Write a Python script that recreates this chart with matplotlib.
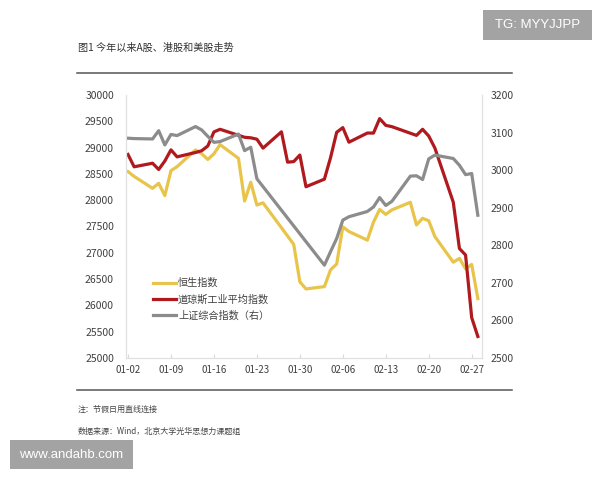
import matplotlib.pyplot as plt
import pandas as pd
from matplotlib.patches import Rectangle
from matplotlib.lines import Line2D

plt.rcParams['font.family'] = ['Noto Sans CJK SC', 'DejaVu Sans']

# 恒生指数 (HK trading days)
hsi_dates = ["01-02", "01-03", "01-06", "01-07", "01-08", "01-09", "01-10", "01-13", "01-14", "01-15",
             "01-16", "01-17", "01-20", "01-21", "01-22", "01-23", "01-24", "01-29", "01-30", "01-31",
             "02-03", "02-04", "02-05", "02-06", "02-07", "02-10", "02-11", "02-12", "02-13", "02-14",
             "02-17", "02-18", "02-19", "02-20", "02-21", "02-24", "02-25", "02-26", "02-27", "02-28"]
hsi = [28544, 28452, 28226, 28322, 28088, 28561, 28638, 28955, 28885, 28774,
       28883, 29056, 28796, 27985, 28341, 27909, 27950, 27161, 26449, 26313,
       26357, 26676, 26787, 27494, 27404, 27241, 27584, 27824, 27730, 27816,
       27960, 27530, 27656, 27609, 27309, 26821, 26893, 26696, 26779, 26130]

# 道琼斯工业平均指数 (US trading days)
dow_dates = ["01-02", "01-03", "01-06", "01-07", "01-08", "01-09", "01-10", "01-13", "01-14", "01-15",
             "01-16", "01-17", "01-21", "01-22", "01-23", "01-24", "01-27", "01-28", "01-29", "01-30",
             "01-31", "02-03", "02-04", "02-05", "02-06", "02-07", "02-10", "02-11", "02-12", "02-13",
             "02-14", "02-18", "02-19", "02-20", "02-21", "02-24", "02-25", "02-26", "02-27", "02-28"]
dow = [28869, 28635, 28703, 28584, 28745, 28957, 28824, 28907, 28940, 29030,
       29298, 29348, 29196, 29186, 29160, 28990, 29300, 28723, 28734, 28859,
       28256, 28400, 28808, 29291, 29380, 29103, 29277, 29276, 29551, 29423,
       29398, 29232, 29348, 29220, 28992, 27961, 27081, 26958, 25767, 25409]

# 上证综合指数 (right axis)
sh_dates = ["01-02", "01-03", "01-06", "01-07", "01-08", "01-09", "01-10", "01-13", "01-14", "01-15",
            "01-16", "01-17", "01-20", "01-21", "01-22", "01-23",
            "02-03", "02-04", "02-05", "02-06", "02-07", "02-10", "02-11", "02-12", "02-13", "02-14",
            "02-17", "02-18", "02-19", "02-20", "02-21", "02-24", "02-25", "02-26", "02-27", "02-28"]
sh = [3085, 3084, 3083, 3105, 3067, 3095, 3092, 3116, 3107, 3090,
      3074, 3076, 3096, 3052, 3061, 2977,
      2747, 2783, 2818, 2867, 2876, 2890, 2902, 2927, 2906, 2917,
      2984, 2985, 2975, 3030, 3040, 3031, 3013, 2988, 2991, 2880]

tick_labels = ["01-02", "01-09", "01-16", "01-23", "01-30", "02-06", "02-13", "02-20", "02-27"]
left_ticks = list(range(25000, 30001, 500))
right_ticks = list(range(2500, 3201, 100))

names = ["恒生指数", "道琼斯工业平均指数", "上证综合指数（右）"]
colors = ["#E8C54A", "#B01A1E", "#8C8C8C"]


def day(ds):
    return (pd.to_datetime(["2020-" + d for d in ds]) - pd.Timestamp("2020-01-02")).days


W, H = 600, 480
fig = plt.figure(figsize=(6, 4.8), dpi=100)

def fx(x):
    return x / W

def fy(y):
    return 1 - y / H

ax = fig.add_axes([fx(125.7), fy(358), fx(481.7) - fx(125.7), fy(95) - fy(358)])
ax2 = ax.twinx()

ax.plot(day(hsi_dates), hsi, color=colors[0], lw=2.3)
ax.plot(day(dow_dates), dow, color=colors[1], lw=2.3)
ax2.plot(day(sh_dates), sh, color=colors[2], lw=2.3)

ax.set_xlim(-0.375, 57.63)
ax.set_ylim(25000, 30000)
ax2.set_ylim(2500, 3200)
ax.set_yticks(left_ticks)
ax.set_yticklabels([str(v) for v in left_ticks])
ax2.set_yticks(right_ticks)
ax2.set_yticklabels([str(v) for v in right_ticks])
ax.set_xticks(day(tick_labels))
ax.set_xticklabels(tick_labels)

tc = "#404040"
ax.tick_params(axis='y', length=0, labelsize=7.5, colors=tc, pad=8.4)
ax2.tick_params(axis='y', length=0, labelsize=7.5, colors=tc, pad=6.5)
ax.tick_params(axis='x', direction='in', length=3, color='#d9d9d9', labelsize=7, labelcolor=tc, pad=5)

for a in (ax, ax2):
    a.spines['top'].set_visible(False)
    for s in ('left', 'right', 'bottom'):
        a.spines[s].set_color('#e0e0e0')
        a.spines[s].set_linewidth(0.8)

handles = [Line2D([], [], color=c, lw=2.3) for c in colors]
leg = ax2.legend(handles, names, loc='center left', bbox_to_anchor=(0.076, 0.223),
                 frameon=False, fontsize=7.3, handlelength=2.3, handletextpad=0.2,
                 borderpad=0, borderaxespad=0, labelspacing=0.6)
for t in leg.get_texts():
    t.set_color(tc)

# title, rules, notes
fig.text(fx(78), fy(48), "图1 今年以来A股、港股和美股走势", fontsize=7.3, color="#333333", va='center', ha='left')
fig.add_artist(Line2D([fx(77), fx(512)], [fy(72.5), fy(72.5)], color="#555555", lw=1.1))
fig.add_artist(Line2D([fx(77), fx(512)], [fy(389.5), fy(389.5)], color="#555555", lw=1.1))
fig.text(fx(78), fy(409), "注：节假日用直线连接", fontsize=5.8, color="#444444", va='center', ha='left')
fig.text(fx(78), fy(431), "数据来源：Wind，北京大学光华思想力课题组", fontsize=5.8, color="#444444", va='center', ha='left')

# watermark boxes
fig.add_artist(Rectangle((fx(483), fy(40)), fx(592) - fx(483), fy(10) - fy(40),
                         transform=fig.transFigure, color="#a3a3a3", lw=0))
fig.text(fx(537.5), fy(25), "TG: MYYJJPP", fontsize=9.5, color="white", ha='center', va='center',
         family=['Liberation Sans', 'DejaVu Sans'])
fig.add_artist(Rectangle((fx(10), fy(469)), fx(133) - fx(10), fy(440) - fy(469),
                         transform=fig.transFigure, color="#a3a3a3", lw=0))
fig.text(fx(71.5), fy(455), "www.andahb.com", fontsize=9.5, color="white", ha='center', va='center',
         family=['Liberation Sans', 'DejaVu Sans'])

fig.savefig("out.png", dpi=100, facecolor="white")
